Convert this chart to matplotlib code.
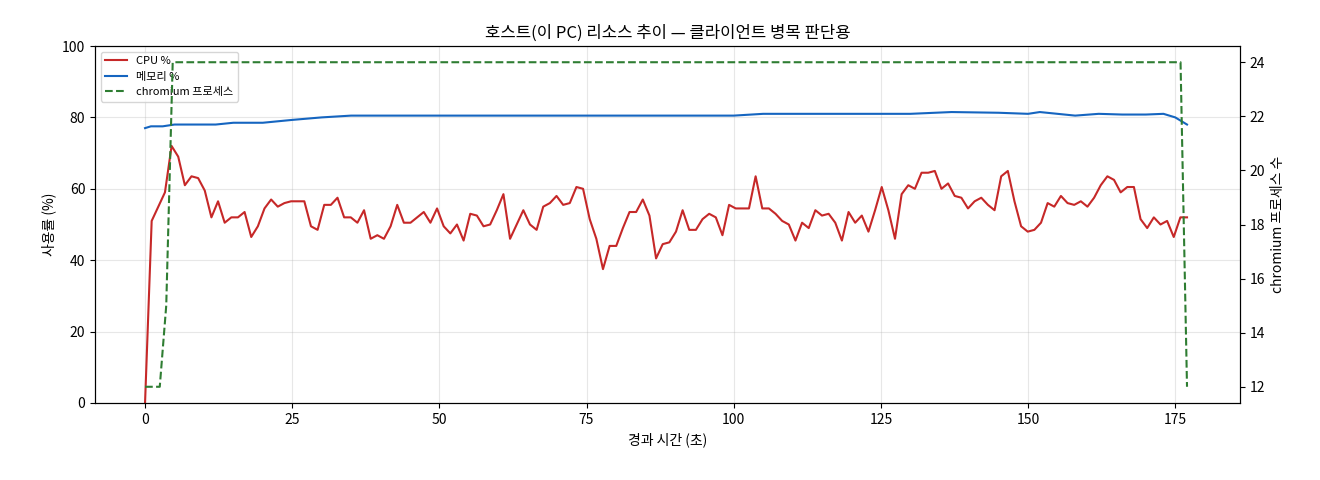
import matplotlib
matplotlib.use("Agg")
import matplotlib.pyplot as plt
import numpy as np

plt.rcParams['font.family'] = ['Noto Sans CJK KR', 'DejaVu Sans']

cpu = [0, 51, 55, 59, 72, 69, 61, 63.5, 63, 59.5, 52, 56.5, 50.5, 52, 52, 53.5, 46.5, 49.5,
       54.5, 57, 55, 56, 56.5, 56.5, 56.5, 49.5, 48.5, 55.5, 55.5, 57.5, 52, 52, 50.5, 54,
       46, 47, 46, 49.5, 55.5, 50.5, 50.5, 52, 53.5, 50.5, 54.5, 49.5, 47.5, 50, 45.5, 53,
       52.5, 49.5, 50, 54, 58.5, 46, 50, 54, 50, 48.5, 55, 56, 58, 55.5, 56, 60.5, 60, 51.5,
       46, 37.5, 44, 44, 49, 53.5, 53.5, 57, 52.5, 40.5, 44.5, 45, 48, 54, 48.5, 48.5, 51.5,
       53, 52, 47, 55.5, 54.5, 54.5, 54.5, 63.5, 54.5, 54.5, 53, 51, 50, 45.5, 50.5, 49, 54,
       52.5, 53, 50.5, 45.5, 53.5, 50.5, 52.5, 48, 54, 60.5, 54, 46, 58.5, 61, 60, 64.5, 64.5,
       65, 60, 61.5, 58, 57.5, 54.5, 56.5, 57.5, 55.5, 54, 63.5, 65, 56.5, 49.5, 48, 48.5,
       50.5, 56, 55, 58, 56, 55.5, 56.5, 55, 57.5, 61, 63.5, 62.5, 59, 60.5, 60.5, 51.5, 49,
       52, 50, 51, 46.5, 52, 52]
cpu_t = np.linspace(0, 177, len(cpu))

mem_t = [0, 1, 3, 5, 8, 12, 15, 20, 25, 30, 35, 40, 50, 60, 70, 80, 90, 100, 105, 110, 120,
         130, 137, 145, 150, 152, 155, 158, 162, 166, 170, 173, 175, 177]
mem = [77, 77.5, 77.5, 78, 78, 78, 78.5, 78.5, 79.3, 80, 80.5, 80.5, 80.5, 80.5, 80.5, 80.5,
       80.5, 80.5, 81, 81, 81, 81, 81.5, 81.3, 81, 81.5, 81, 80.5, 81, 80.8, 80.8, 81, 80, 78]

chr_t = [0, 2.5, 3.6, 4.7, 175.9, 177]
chrom = [12, 12, 15, 24, 24, 12]

fig = plt.figure(figsize=(13.2, 4.8), dpi=100)
ax = fig.add_axes([95/1320, 1-403/480, (1240-95)/1320, (403-46)/480])
l1, = ax.plot(cpu_t, cpu, color='#c62828', lw=1.5, label='CPU %')
l2, = ax.plot(mem_t, mem, color='#1565c0', lw=1.5, label='메모리 %')
ax.set_ylim(0, 100)
ax.set_xlim(-8.5, 186)
ax.set_xticks([0, 25, 50, 75, 100, 125, 150, 175])
ax.grid(True, alpha=0.3)
ax.set_xlabel('경과 시간 (초)')
ax.set_ylabel('사용률 (%)')
ax.set_title('호스트(이 PC) 리소스 추이 — 클라이언트 병목 판단용')
ax2 = ax.twinx()
l3, = ax2.plot(chr_t, chrom, color='#2e7d32', lw=1.5, ls='--', label='chromium 프로세스')
ax2.set_ylim(11.4, 24.6)
ax2.set_yticks([12, 14, 16, 18, 20, 22, 24])
ax2.set_ylabel('chromium 프로세스 수')
ax.legend(handles=[l1, l2, l3], loc='upper left', fontsize=8)
fig.savefig('out.png', dpi=100)
